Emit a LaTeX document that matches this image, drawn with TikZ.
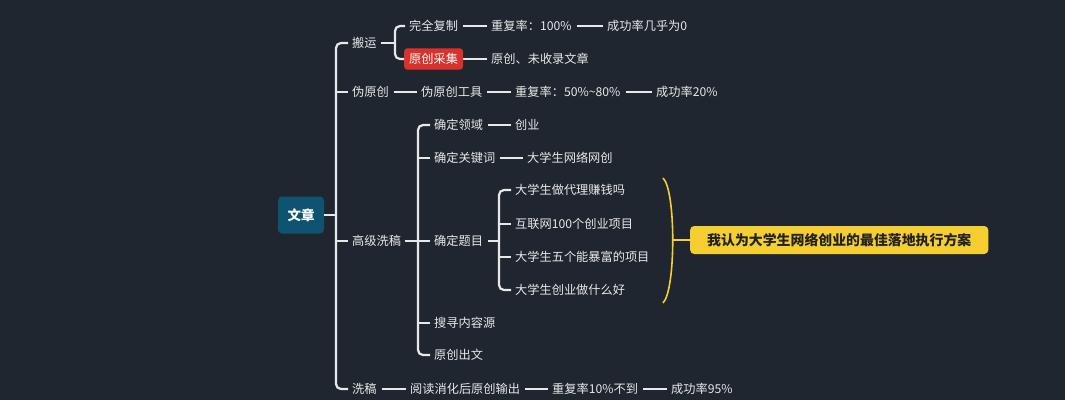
\documentclass[tikz,border=0pt]{standalone}
\usepackage{fontspec}
\setmainfont{Noto Sans CJK SC}
\definecolor{bg}{HTML}{1F2630}
\definecolor{ln}{HTML}{E8E8E8}
\definecolor{teal}{HTML}{0E5470}
\definecolor{redb}{HTML}{D9312B}
\definecolor{yel}{HTML}{F5CE32}
\definecolor{dark}{HTML}{222222}
\begin{document}
\begin{tikzpicture}[x=1pt,y=-1pt,
  t/.style={anchor=west,inner sep=0pt,text=ln,font=\fontsize{12.2}{14}\selectfont},
  br/.style={draw=ln,line width=2.2pt,rounded corners=5pt},
  cn/.style={draw=ln,line width=2.2pt}]
\fill[bg] (0,0) rectangle (1065,400);
\useasboundingbox (0,0) rectangle (1065,400);
% root
\node[fill=teal,rounded corners=4pt,minimum width=46pt,minimum height=37pt,inner sep=0pt,text=white,font=\fontsize{13.5}{15}\selectfont\bfseries] (root) at (301,215) {文章};
% level 1
\node[t] (by) at (352,43) {搬运};
\node[t] (wyc) at (352,92) {伪原创};
\node[t] (gj) at (352,241) {高级洗稿};
\node[t] (xg) at (352,389) {洗稿};
\coordinate (b0) at (336,0);
\draw[br] ([xshift=-4pt]by.west) -| (b0 |- xg.west) -- ([xshift=-4pt]xg.west);
\draw[cn] (root.east) -- (b0 |- root.east);
\draw[cn] (b0 |- wyc.west) -- ([xshift=-4pt]wyc.west);
\draw[cn] (b0 |- gj.west) -- ([xshift=-4pt]gj.west);
% 搬运
\node[t] (wq) at (409,26) {完全复制};
\node[anchor=west,fill=redb,rounded corners=3pt,inner xsep=5pt,inner ysep=5pt,text=white,font=\fontsize{12.2}{14}\selectfont] (yc) at (404,59) {原创采集};
\coordinate (b1) at (395,0);
\draw[cn] ([xshift=4pt]by.east) -- (b1 |- by.east);
\draw[br] ([xshift=-4pt]wq.west) -| (b1 |- yc.west) -- (yc.west);
\node[t] (cf1) at (491,26) {重复率：100\%};
\node[t] (cg1) at (607,26) {成功率几乎为0};
\draw[cn] ([xshift=5pt]wq.east) -- ([xshift=-4pt]cf1.west);
\draw[cn] ([xshift=5pt]cf1.east) -- ([xshift=-4pt]cg1.west);
\node[t] (wsl) at (491,59) {原创、未收录文章};
\draw[cn] (yc.east) -- ([xshift=-4pt]wsl.west);
% 伪原创
\node[t] (gjj) at (421,92) {伪原创工具};
\node[t] (cf2) at (515,92) {重复率：50\%\textasciitilde80\%};
\node[t] (cg2) at (656,92) {成功率20\%};
\draw[cn] ([xshift=5pt]wyc.east) -- ([xshift=-4pt]gjj.west);
\draw[cn] ([xshift=5pt]gjj.east) -- ([xshift=-4pt]cf2.west);
\draw[cn] ([xshift=5pt]cf2.east) -- ([xshift=-4pt]cg2.west);
% 高级洗稿
\node[t] (ly) at (434,125) {确定领域};
\node[t] (gjc) at (434,158) {确定关键词};
\node[t] (tm) at (434,241) {确定题目};
\node[t] (ss) at (434,323) {搜寻内容源};
\node[t] (cw) at (434,355) {原创出文};
\coordinate (b2) at (418,0);
\draw[cn] ([xshift=4pt]gj.east) -- (b2 |- gj.east);
\draw[br] ([xshift=-4pt]ly.west) -| (b2 |- cw.west) -- ([xshift=-4pt]cw.west);
\draw[cn] (b2 |- gjc.west) -- ([xshift=-4pt]gjc.west);
\draw[cn] (b2 |- tm.west) -- ([xshift=-4pt]tm.west);
\draw[cn] (b2 |- ss.west) -- ([xshift=-4pt]ss.west);
\node[t] (cy) at (515,125) {创业};
\draw[cn] ([xshift=5pt]ly.east) -- ([xshift=-4pt]cy.west);
\node[t] (wc) at (527,158) {大学生网络网创};
\draw[cn] ([xshift=5pt]gjc.east) -- ([xshift=-4pt]wc.west);
% 确定题目
\node[t] (t1) at (515,190) {大学生做代理赚钱吗};
\node[t] (t2) at (515,224) {互联网100个创业项目};
\node[t] (t3) at (515,257) {大学生五个能暴富的项目};
\node[t] (t4) at (515,290) {大学生创业做什么好};
\coordinate (b3) at (499,0);
\draw[cn] ([xshift=5pt]tm.east) -- (b3 |- tm.east);
\draw[br] ([xshift=-4pt]t1.west) -| (b3 |- t4.west) -- ([xshift=-4pt]t4.west);
\draw[cn] (b3 |- t2.west) -- ([xshift=-4pt]t2.west);
\draw[cn] (b3 |- t3.west) -- ([xshift=-4pt]t3.west);
% summary
\coordinate (s1) at (663,178);
\coordinate (s2) at (663,303);
\coordinate (sm) at (673,240);
\draw[yel,line width=1.6pt] (s1) .. controls (676,190) and (676,290) .. (s2);
\node[anchor=west,fill=yel,rounded corners=4pt,minimum height=28pt,inner xsep=17pt,inner ysep=0pt,text=dark,font=\fontsize{13.9}{16}\selectfont\bfseries] (sum) at (690,240) {我认为大学生网络创业的最佳落地执行方案};
\draw[yel,line width=1.6pt] (sm) -- (sum.west);
% 洗稿
\node[t] (yd) at (410,389) {阅读消化后原创输出};
\node[t] (cf3) at (552,389) {重复率10\%不到};
\node[t] (cg3) at (671,389) {成功率95\%};
\draw[cn] ([xshift=5pt]xg.east) -- ([xshift=-4pt]yd.west);
\draw[cn] ([xshift=5pt]yd.east) -- ([xshift=-4pt]cf3.west);
\draw[cn] ([xshift=5pt]cf3.east) -- ([xshift=-4pt]cg3.west);
\end{tikzpicture}
\end{document}
